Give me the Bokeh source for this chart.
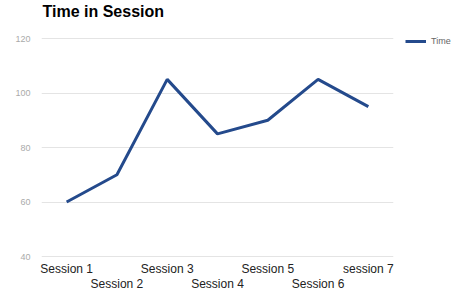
from bokeh.plotting import figure
from bokeh.models import (LinearAxis, FixedTicker, Range1d, Legend, LegendItem,
                          ColumnDataSource, Label)
from bokeh.embed import file_html
from bokeh.resources import INLINE

categories = ["Session 1", "Session 2", "Session 3", "Session 4",
              "Session 5", "Session 6", "session 7"]
time_values = [60, 70, 105, 85, 90, 105, 95]
y_ticks = [40, 60, 80, 100, 120]
title_text = "Time in Session"

# frame spans from the canvas top (title area) down to the 40 gridline
FW, FH = 352, 257
PLOT_TOP_PX = 38          # pixel row of the top (120) gridline
PLOT_H_PX = 218           # pixels between the 120 and 40 gridlines
y_lo, y_hi = min(y_ticks), max(y_ticks)
per_px = (y_hi - y_lo) / PLOT_H_PX
y_start = y_lo - (FH - PLOT_TOP_PX - PLOT_H_PX) * per_px
y_end = y_hi + PLOT_TOP_PX * per_px

xs = list(range(len(categories)))
src = ColumnDataSource(dict(x=xs, y=time_values))

p = figure(frame_width=FW, frame_height=FH, output_backend="svg", toolbar_location=None,
           x_range=Range1d(-0.5, len(categories) - 0.5), y_range=Range1d(y_start, y_end),
           x_axis_type=None, y_axis_location="left",
           min_border_left=41, min_border_right=65, min_border_top=0,
           min_border_bottom=40, sizing_mode="fixed")
p.outline_line_color = None
p.background_fill_color = "white"
p.border_fill_color = "white"

p.add_layout(Label(x=1, y=FH - 11, x_units="screen", y_units="screen",
                   text=title_text, text_font="Liberation Sans",
                   text_font_size="16px", text_font_style="bold",
                   text_color="#000000", text_baseline="alphabetic",
                   text_align="left"))

# y axis
ya = p.yaxis[0]
ya.ticker = FixedTicker(ticks=y_ticks)
ya.axis_line_color = None
ya.major_tick_line_color = None
ya.minor_tick_line_color = None
ya.major_tick_out = 0
ya.major_label_text_font = "Liberation Sans"
ya.major_label_text_font_size = "9px"
ya.major_label_text_color = "#aaaaaa"
ya.major_label_standoff = 11
p.ygrid.ticker = FixedTicker(ticks=y_ticks)
p.ygrid.grid_line_color = "#e4e4e4"
p.xgrid.visible = False

odd = [i for i in xs if i % 2 == 0]
even = [i for i in xs if i % 2 == 1]
for ticks, standoff in ((odd, 4), (even, -2)):
    ax = LinearAxis(ticker=FixedTicker(ticks=ticks),
                    major_label_overrides={i: categories[i] for i in ticks})
    ax.axis_line_color = None
    ax.major_tick_line_color = None
    ax.minor_tick_line_color = None
    ax.major_tick_out = 0
    ax.major_label_standoff = standoff
    ax.major_label_text_font = "Liberation Sans"
    ax.major_label_text_font_size = "12px"
    ax.major_label_text_color = "#222222"
    p.add_layout(ax, "below")

r = p.line("x", "y", source=src, line_color="#244a8c", line_width=3)

legend = Legend(items=[LegendItem(label="Time", renderers=[r])],
                location=(12, FH - PLOT_TOP_PX - 8), margin=0, padding=0,
                glyph_width=21, glyph_height=8, label_height=8,
                label_standoff=5, label_text_font="Liberation Sans",
                label_text_font_size="9px", label_text_color="#666666",
                border_line_color=None, background_fill_alpha=0)
p.add_layout(legend, "right")

open("out.html", "w").write(file_html(p, INLINE))
